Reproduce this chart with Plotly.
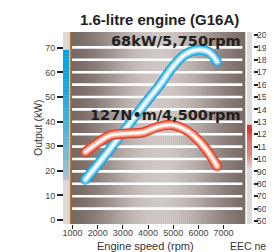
import math
import plotly.graph_objects as go

# ---------------- data ----------------
power_rpm = [1500, 2300, 3100, 3900, 4500, 4950, 5450, 5950, 6400, 6750]
power_kw = [16.3, 26.4, 37.0, 47.6, 55.3, 61.8, 67.1, 69.1, 68.3, 64.2]

torque_rpm = [1500, 2000, 2500, 3100, 3800, 4400, 4950, 5400, 5800, 6300, 6750]
torque_nm = [105.5, 113, 119, 120.5, 121.5, 126, 127.5, 124.5, 119, 108, 94]

x_ticks = [1000, 2000, 3000, 4000, 5000, 6000, 7000]
kw_ticks = [0, 10, 20, 30, 40, 50, 60, 70]
nm_ticks = list(range(50, 201, 10))
grid_nm = list(range(60, 191, 10))

title_text = "1.6-litre engine (G16A)"
power_label = "68kW/5,750rpm"
torque_label = "127N\u2022m/4,500rpm"
x_title = "Engine speed (rpm)"
y_title = "Output (kW)"
note_text = "EEC net"

# ---------------- figure ----------------
# the page body has an 8px default margin, so the figure starts at (8, 8)
OFF = 8
WIN_W, WIN_H = 274, 252
W, H = WIN_W - OFF, WIN_H - OFF
PAPER_L, PAPER_R, PAPER_T, PAPER_B = 63, 253, 32, 224   # window pixels
ML, MR = PAPER_L - OFF, WIN_W - PAPER_R
MT, MB = PAPER_T - OFF, WIN_H - PAPER_B
PW = PAPER_R - PAPER_L
PH = PAPER_B - PAPER_T


def px_x(px):
    return (px - PAPER_L) / PW


def px_y(py):
    return (PAPER_B - py) / PH


fig = go.Figure()


def mix(c1, c2, w):
    return "rgb(%d,%d,%d)" % tuple(round(a + (b - a) * w) for a, b in zip(c1, c2))


shapes = []
# background gradient (horizontal)
dark = (118, 103, 98)
light = (210, 202, 199)
N = 88
for i in range(N):
    t0, t1 = i / N, (i + 1) / N
    tc = (t0 + t1) / 2
    w = math.cos((tc - 0.52) * math.pi / 1.1) ** 2
    shapes.append(dict(type="rect", xref="x domain", yref="y domain",
                       x0=t0, x1=t1 + 0.002, y0=0, y1=1, layer="below",
                       fillcolor=mix(dark, light, w), line=dict(width=0)))
# white stripes
for v in grid_nm:
    shapes.append(dict(type="line", xref="x domain", yref="y2",
                       x0=0.012, x1=0.985, y0=v, y1=v, layer="below",
                       line=dict(color="white", width=2.6)))
# orange left edge
shapes.append(dict(type="line", xref="x domain", yref="y domain",
                   x0=0.002, x1=0.002, y0=0, y1=1, layer="above",
                   line=dict(color="#c9782f", width=1.6)))
# left gray bar + blue range
lx0, lx1 = px_x(63), px_x(69)
shapes.append(dict(type="rect", xref="paper", yref="paper", x0=lx0, x1=lx1,
                   y0=0, y1=1, fillcolor="#dadada", line=dict(width=0)))
pmin, pmax = min(power_kw), max(power_kw)
top_b, bot_b = (0, 163, 228), (176, 196, 210)
NB = 40
for i in range(NB):
    a0 = pmax - (pmax - pmin) * i / NB
    a1 = pmax - (pmax - pmin) * (i + 1) / NB
    w = (i / NB) ** 1.6
    shapes.append(dict(type="rect", xref="paper", yref="y", x0=lx0, x1=lx1,
                       y0=a1, y1=a0 + 0.05, fillcolor=mix(top_b, bot_b, w),
                       line=dict(width=0)))
# right gray bar + red range
rx0, rx1 = px_x(247), px_x(252)
shapes.append(dict(type="rect", xref="paper", yref="paper", x0=rx0, x1=rx1,
                   y0=0, y1=1, fillcolor="#dadada", line=dict(width=0)))
tmin, tmax = min(torque_nm), max(torque_nm)
top_r, bot_r = (230, 50, 35), (214, 200, 198)
for i in range(NB):
    a0 = tmax - (tmax - tmin) * i / NB
    a1 = tmax - (tmax - tmin) * (i + 1) / NB
    w = (i / NB) ** 1.6
    shapes.append(dict(type="rect", xref="paper", yref="y2", x0=rx0, x1=rx1,
                       y0=a1, y1=a0 + 0.08, fillcolor=mix(top_r, bot_r, w),
                       line=dict(width=0)))


def tube(xs, ys, yaxis, layers):
    n = len(xs)
    for color, width in layers:
        sizes = [width] + [0] * (n - 2) + [width]
        fig.add_trace(go.Scatter(
            x=xs, y=ys, yaxis=yaxis, mode="lines+markers",
            line=dict(color=color, width=width, shape="spline", smoothing=1.0),
            marker=dict(size=sizes, color=color, line=dict(width=0)),
            hoverinfo="skip", showlegend=False))


tube(torque_rpm, torque_nm, "y2",
     [("#e03a22", 10), ("#f07a60", 7.6), ("#f8b4a2", 5.2), ("#fde6df", 3.0), ("#ffffff", 1.5)])
tube(power_rpm, power_kw, "y",
     [("#13a3e0", 10), ("#5cc2ee", 7.6), ("#a8def5", 5.2), ("#e2f5fd", 3.0), ("#ffffff", 1.5)])

tick_font = dict(family="Liberation Sans, Arial", size=9, color="#444")
label_font = dict(family="DejaVu Sans", size=14.5, color="#231f20")

annotations = [
    dict(text="<b>%s</b>" % title_text, xref="paper", yref="paper",
         x=px_x(159), y=px_y(19), xanchor="center", yanchor="middle", showarrow=False,
         font=dict(family="Liberation Sans, Arial", size=15, color="#222")),
    dict(text="<b>%s</b>" % power_label, xref="paper", yref="paper",
         x=px_x(243), y=px_y(41), xanchor="right", yanchor="middle", showarrow=False,
         font=label_font),
    dict(text="<b>%s</b>" % torque_label, xref="paper", yref="paper",
         x=px_x(243), y=px_y(115), xanchor="right", yanchor="middle", showarrow=False,
         font=label_font),
    dict(text=y_title, xref="paper", yref="paper", textangle=-90,
         x=px_x(38), y=px_y(128), xanchor="center", yanchor="middle", showarrow=False,
         font=dict(family="Liberation Sans, Arial", size=10.5, color="#333")),
    dict(text=x_title, xref="paper", yref="paper",
         x=px_x(145), y=px_y(246), xanchor="center", yanchor="middle", showarrow=False,
         font=dict(family="Liberation Sans, Arial", size=11, color="#333")),
    dict(text=note_text, xref="paper", yref="paper",
         x=px_x(271), y=px_y(246), xanchor="right", yanchor="middle", showarrow=False,
         font=dict(family="Liberation Sans, Arial", size=10.5, color="#333")),
]

fig.update_layout(
    width=W, height=H,
    margin=dict(l=ML, r=MR, t=MT, b=MB, pad=0, autoexpand=False),
    paper_bgcolor="white", plot_bgcolor="#9a8c88",
    showlegend=False,
    shapes=shapes,
    annotations=annotations,
    xaxis=dict(domain=[px_x(70), px_x(245)], range=[900, 7850],
               tickvals=x_ticks, ticks="outside", ticklen=4, tickwidth=1.2,
               tickcolor="#222", showgrid=False, zeroline=False, showline=False,
               tickangle=0, tickfont=tick_font, anchor="y", automargin=False,
               ticklabelstandoff=-4),
    yaxis=dict(range=[-1.63, 76.4], anchor="free", position=0,
               tickvals=kw_ticks, ticks="outside", ticklen=6, tickwidth=2,
               tickcolor="#222", showgrid=False, zeroline=False, showline=False,
               tickfont=tick_font, automargin=False),
    yaxis2=dict(range=[47.6, 202.4], anchor="free", position=1, side="right",
                overlaying="y", tickvals=nm_ticks, ticks="outside", ticklen=4,
                tickwidth=2, tickcolor="#222", showgrid=False, zeroline=False,
                showline=False, tickfont=tick_font, automargin=False,
                ticklabelstandoff=-3),
)

fig.write_html("out.html")
